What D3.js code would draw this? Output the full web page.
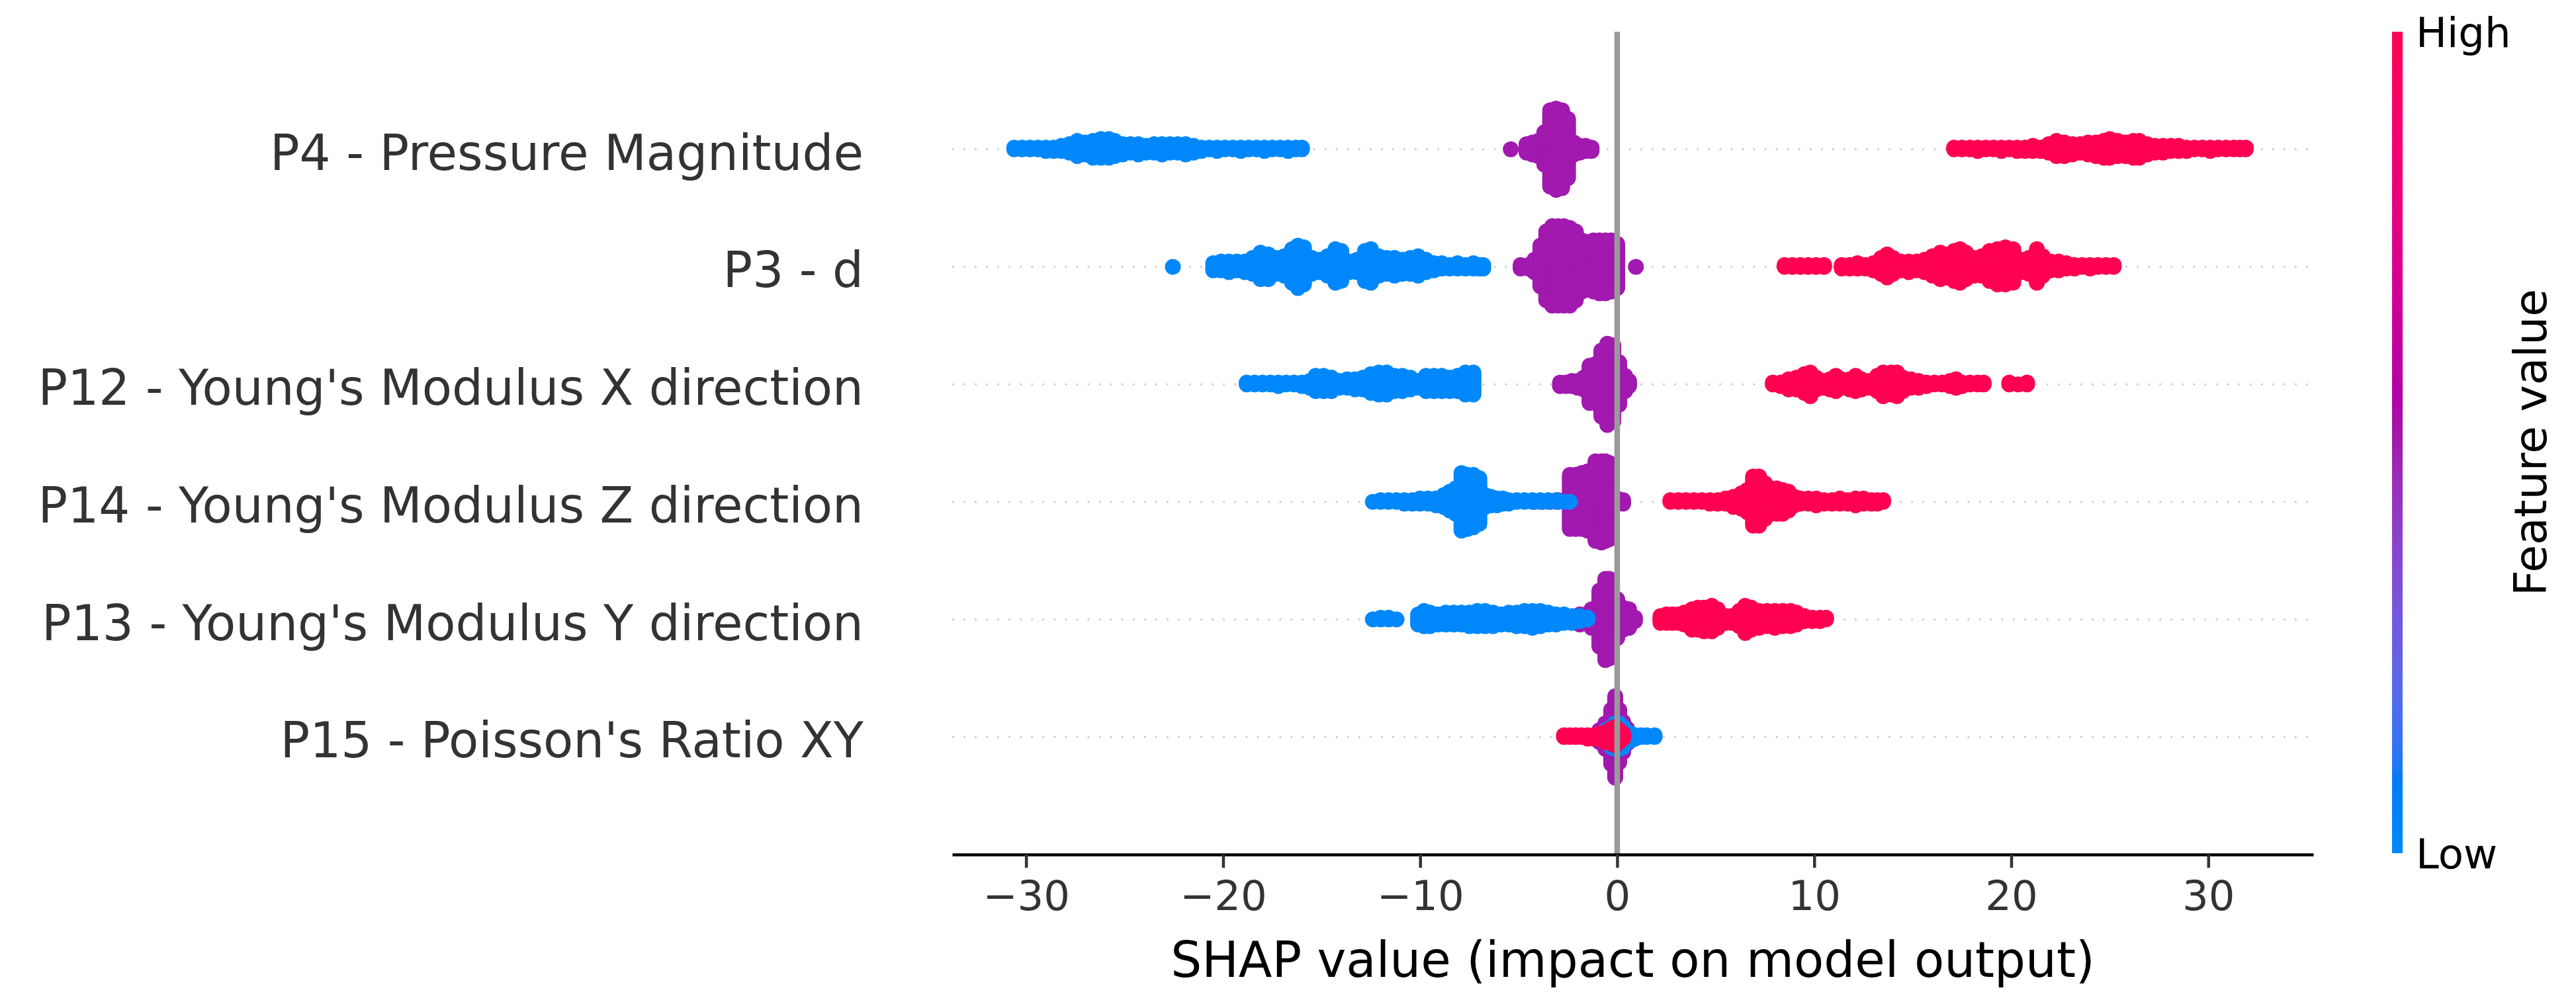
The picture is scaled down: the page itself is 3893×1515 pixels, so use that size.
<!DOCTYPE html>
<html>
<head>
<meta charset="utf-8">
<script src="https://cdn.jsdelivr.net/npm/d3@7"></script>
<style>
    html, body { margin: 0; padding: 0; background: #fff; }
    svg { display: block; }
</style>
</head>
<body>
<div id="chart"></div>
<script>
// features, top row first
const features = [
    "P4 - Pressure Magnitude",
    "P3 - d",
    "P12 - Young's Modulus X direction",
    "P14 - Young's Modulus Z direction",
    "P13 - Young's Modulus Y direction",
    "P15 - Poisson's Ratio XY"
];

const xTicks = [-30, -20, -10, 0, 10, 20, 30];
const levelValues = { low: 0, mid: 0.5, high: 1 };

// [shap value, number of samples stacked at that value]
const p4Low = [[-30.6,2],[-30.2,2],[-29.8,2],[-29.4,2],[-29.0,3],[-28.6,3],[-28.2,4],[-27.8,6],[-27.4,10],[-27.0,8],[-26.6,11],[-26.2,12],[-25.8,12],[-25.5,10],[-25.1,7],[-24.7,6],[-24.3,7],[-23.9,5],[-23.5,6],[-23.1,7],[-22.7,6],[-22.3,6],[-21.9,7],[-21.5,5],[-21.1,3],[-20.7,2],[-20.3,3],[-19.9,2],[-19.5,2],[-19.1,3],[-18.7,2],[-18.3,2],[-17.9,3],[-17.5,2],[-17.1,2],[-16.7,3],[-16.3,2],[-16.0,2]];
const p4Mid = [[-5.4,1],[-4.6,6],[-4.3,8],[-4.0,10],[-3.7,20],[-3.4,46],[-3.1,49],[-2.8,47],[-2.5,36],[-2.2,8],[-1.9,5],[-1.6,4],[-1.3,3]];
const p4High = [[17.1,2],[17.5,2],[17.9,2],[18.3,3],[18.7,2],[19.1,2],[19.5,3],[19.9,2],[20.3,3],[20.7,3],[21.1,4],[21.5,3],[21.9,6],[22.3,10],[22.7,9],[23.1,7],[23.5,6],[23.9,8],[24.3,9],[24.7,11],[25.0,12],[25.4,10],[25.8,9],[26.2,11],[26.5,11],[26.9,7],[27.3,5],[27.7,5],[28.1,4],[28.5,4],[28.9,3],[29.3,2],[29.7,2],[30.1,3],[30.5,2],[30.9,2],[31.3,2],[31.6,2],[31.9,2]];

const p3Low = [[-22.55,1],[-20.5,5],[-20.1,6],[-19.7,7],[-19.3,6],[-18.9,7],[-18.5,10],[-18.1,16],[-17.7,15],[-17.3,10],[-16.9,12],[-16.5,20],[-16.2,25],[-15.9,22],[-15.5,10],[-15.1,8],[-14.7,12],[-14.3,20],[-14.0,18],[-13.6,7],[-13.2,8],[-12.8,18],[-12.5,20],[-12.1,12],[-11.7,10],[-11.3,11],[-10.9,9],[-10.5,10],[-10.1,12],[-9.7,8],[-9.3,5],[-8.9,4],[-8.5,3],[-8.1,4],[-7.7,3],[-7.3,4],[-7.0,3],[-6.8,3]];
const p3Mid = [[-4.9,3],[-4.5,3],[-4.2,8],[-3.9,24],[-3.6,40],[-3.3,46],[-3.0,46],[-2.7,46],[-2.4,45],[-2.1,40],[-1.8,30],[-1.5,28],[-1.2,30],[-0.9,31],[-0.6,31],[-0.3,30],[0.0,26],[0.95,1]];
const p3High = [[8.5,2],[8.9,2],[9.3,2],[9.7,2],[10.1,2],[10.5,2],[11.4,3],[11.8,3],[12.2,4],[12.6,3],[13.0,5],[13.4,10],[13.7,14],[14.0,10],[14.4,6],[14.8,7],[15.2,6],[15.6,8],[16.0,12],[16.4,16],[16.7,14],[17.1,18],[17.4,20],[17.7,16],[18.1,11],[18.5,12],[18.9,18],[19.3,21],[19.7,22],[20.1,20],[20.5,8],[20.9,10],[21.3,20],[21.6,12],[22.0,6],[22.4,6],[22.8,4],[23.2,3],[23.6,2],[24.0,3],[24.4,2],[24.8,2],[25.2,2]];

const p12Low = [[-18.8,2],[-18.4,2],[-18.0,2],[-17.6,2],[-17.2,3],[-16.8,2],[-16.4,2],[-16.0,3],[-15.6,5],[-15.3,10],[-14.9,10],[-14.5,9],[-14.1,5],[-13.7,6],[-13.3,7],[-12.9,8],[-12.5,12],[-12.1,14],[-11.7,14],[-11.3,10],[-10.9,10],[-10.5,8],[-10.1,5],[-9.7,10],[-9.3,10],[-8.9,10],[-8.5,9],[-8.1,10],[-7.7,14],[-7.3,14]];
const p12Mid = [[-2.9,3],[-2.6,3],[-2.3,4],[-2.0,5],[-1.7,8],[-1.4,23],[-1.1,24],[-0.8,40],[-0.5,49],[-0.2,46],[0.1,26],[0.4,10],[0.6,4]];
const p12High = [[7.9,2],[8.3,3],[8.7,7],[9.1,8],[9.5,12],[9.8,15],[10.1,8],[10.5,5],[10.8,7],[11.1,10],[11.4,6],[11.8,7],[12.1,10],[12.4,7],[12.8,5],[13.2,10],[13.5,15],[13.9,14],[14.2,15],[14.5,9],[14.9,6],[15.3,5],[15.7,3],[16.1,2],[16.5,2],[16.9,4],[17.2,6],[17.5,3],[17.9,2],[18.3,2],[18.6,2],[19.9,2],[20.35,1],[20.8,2]];

const p14Low = [[-12.4,1],[-12.0,2],[-11.6,2],[-11.2,2],[-10.8,3],[-10.4,3],[-10.0,4],[-9.6,4],[-9.2,5],[-8.8,8],[-8.5,12],[-8.2,16],[-7.9,35],[-7.6,33],[-7.3,32],[-7.0,28],[-6.7,8],[-6.4,6],[-6.1,5],[-5.8,4],[-5.5,3],[-5.1,2],[-4.7,2],[-4.3,2],[-3.9,2],[-3.5,2],[-3.1,2],[-2.7,1],[-2.4,1]];
const p14Mid = [[-4.2,1],[-3.8,1],[-3.4,1],[-3.0,2],[-2.4,32],[-2.1,33],[-1.8,34],[-1.5,36],[-1.1,48],[-0.8,49],[-0.6,48],[-0.4,46],[0.0,4],[0.3,3]];
const p14High = [[2.7,2],[3.1,2],[3.5,2],[3.9,2],[4.3,2],[4.7,3],[5.1,3],[5.5,4],[5.9,7],[6.3,10],[6.6,14],[6.9,30],[7.2,30],[7.5,22],[7.8,16],[8.1,16],[8.4,15],[8.7,12],[9.0,6],[9.3,4],[9.7,4],[10.1,5],[10.5,3],[10.9,3],[11.3,4],[11.7,3],[12.1,5],[12.5,4],[12.9,3],[13.2,3],[13.5,2]];

const p13Low = [[-12.4,1],[-12.0,2],[-11.6,2],[-11.2,1],[-10.1,7],[-9.8,10],[-9.5,9],[-9.1,7],[-8.7,8],[-8.3,8],[-7.9,8],[-7.5,9],[-7.1,10],[-6.7,10],[-6.3,9],[-5.9,7],[-5.5,8],[-5.1,9],[-4.7,10],[-4.3,11],[-3.9,10],[-3.5,8],[-3.1,7],[-2.7,6],[-2.3,5],[-1.9,4],[-1.5,2]];
const p13Mid = [[-2.8,1],[-2.5,2],[-2.2,2],[-1.9,3],[-1.6,6],[-1.3,12],[-0.9,34],[-0.6,49],[-0.4,48],[0.0,24],[0.3,14],[0.6,12],[0.9,3]];
const p13High = [[2.2,5],[2.5,6],[2.8,6],[3.1,6],[3.4,8],[3.8,13],[4.1,14],[4.4,15],[4.8,16],[5.1,12],[5.5,5],[5.8,5],[6.2,10],[6.5,17],[6.8,14],[7.2,11],[7.6,10],[8.0,11],[8.4,10],[8.8,10],[9.1,8],[9.5,4],[9.9,3],[10.3,3],[10.6,2]];

const p15Low = [[-0.6,1],[-0.3,3],[-0.1,4],[0.1,8],[0.3,9],[0.5,7],[0.7,5],[0.9,3],[1.2,2],[1.5,2],[1.9,2]];
const p15Mid = [[-0.9,4],[-0.6,8],[-0.3,20],[-0.1,33],[0.1,16],[0.3,6],[0.5,3]];
const p15High = [[-2.7,2],[-2.4,2],[-2.1,2],[-1.8,2],[-1.5,3],[-1.2,3],[-0.9,4],[-0.6,7],[-0.3,10],[-0.1,12],[0.1,8],[0.3,4]];

const rows = [
    { low: p4Low, mid: p4Mid, high: p4High },
    { low: p3Low, mid: p3Mid, high: p3High },
    { low: p12Low, mid: p12Mid, high: p12High },
    { low: p14Low, mid: p14Mid, high: p14High },
    { low: p13Low, mid: p13Mid, high: p13High },
    { low: p15Low, mid: p15Mid, high: p15High }
];

// shap's red_blue map: lch ramp from blue to red through a darker purple
function redBlue(t) {
    const i = t * 99;
    const l = i <= 49 ? 54 - 14 * i / 49 : (i < 50 ? 40 : 40 + 14 * (i - 50) / 49);
    const c = 70 + 20 * t;
    const h = 266.93 + (380.32 - 266.93) * t;
    return d3.rgb(d3.hcl(h, c, l)).formatHex();
}

class ShapSummary {
    constructor() {
        this.config();
        this.init();
    }

    config() {
        this.width = 3893;
        this.height = 1515;
        this.plot = { left: 1439, right: 3496, top: 48, bottom: 1292 };
        this.xDomain = [-33.75, 35.33];
        this.dotRadius = 12;
        this.font = "DejaVu Sans";
    }

    init() {
        this.svg = d3.select("#chart").append("svg")
            .attr("width", this.width).attr("height", this.height)
            .style("font-family", this.font);

        this.x = d3.scaleLinear().domain(this.xDomain).range([this.plot.left, this.plot.right]);
        this.y = d3.scaleLinear().domain([-1, features.length]).range([this.plot.bottom, this.plot.top]);

        this.drawGrid();
        this.drawSwarms();
        this.drawZeroLine();
        this.drawAxis();
        this.drawFeatureLabels();
        this.drawColorbar();
    }

    rowPos(i) {
        return features.length - 1 - i;
    }

    drawGrid() {
        this.svg.append("g").selectAll("line")
            .data(features).join("line")
            .attr("x1", this.plot.left).attr("x2", this.plot.right)
            .attr("y1", (_, i) => this.y(this.rowPos(i))).attr("y2", (_, i) => this.y(this.rowPos(i)))
            .attr("stroke", "#cccccc").attr("stroke-width", 2.85)
            .attr("stroke-dasharray", "2.85 14.2");
    }

    // same stacking as shap: alternate up/down within a bin, scale tallest bin to the row height
    layoutRow(row) {
        const stacks = new Map();
        ["high", "low", "mid"].forEach(key => {
            row[key].forEach(([v, n]) => {
                if (!stacks.has(v)) stacks.set(v, []);
                const s = stacks.get(v);
                for (let k = 0; k < n; k++) s.push({ value: v, key, level: levelValues[key] });
            });
        });

        const points = [];
        let maxY = 0;
        stacks.forEach(stack => stack.forEach((p, layer) => {
            p.ys = Math.ceil(layer / 2) * ((layer % 2) * 2 - 1);
            maxY = Math.max(maxY, p.ys);
            points.push(p);
        }));

        const k = 0.9 * 0.4 / (maxY + 1);
        points.forEach(p => p.offset = p.ys * k);

        const drawOrder = { mid: 0, low: 1, high: 2 };
        return points.sort((a, b) => drawOrder[a.key] - drawOrder[b.key]);
    }

    drawSwarms() {
        rows.forEach((row, i) => {
            const pos = this.rowPos(i);
            this.svg.append("g").selectAll("circle")
                .data(this.layoutRow(row)).join("circle")
                .attr("cx", d => this.x(d.value))
                .attr("cy", d => this.y(pos + d.offset))
                .attr("r", this.dotRadius)
                .attr("fill", d => redBlue(d.level));
        });
    }

    drawZeroLine() {
        this.svg.append("line")
            .attr("x1", this.x(0)).attr("x2", this.x(0))
            .attr("y1", this.plot.top).attr("y2", this.plot.bottom)
            .attr("stroke", "#999999").attr("stroke-width", 8.5);
    }

    drawAxis() {
        const axis = d3.axisBottom(this.x)
            .tickValues(xTicks).tickFormat(d3.format("d"))
            .tickSizeInner(20).tickSizeOuter(0).tickPadding(20);

        const g = this.svg.append("g")
            .attr("transform", `translate(0,${this.plot.bottom})`)
            .call(axis)
            .attr("font-family", this.font).attr("font-size", 62.5);

        g.select(".domain").attr("stroke", "#000").attr("stroke-width", 4.5);
        g.selectAll(".tick line").attr("stroke", "#333333").attr("stroke-width", 4.5);
        g.selectAll(".tick text").attr("fill", "#333333");

        this.svg.append("text")
            .attr("x", (this.plot.left + this.plot.right) / 2).attr("y", 1477)
            .attr("text-anchor", "middle").attr("font-size", 74).attr("fill", "#000")
            .text("SHAP value (impact on model output)");
    }

    drawFeatureLabels() {
        this.svg.append("g").selectAll("text")
            .data(features).join("text")
            .attr("x", 1305)
            .attr("y", (_, i) => this.y(this.rowPos(i)) + 31)
            .attr("text-anchor", "end").attr("font-size", 74).attr("fill", "#333333")
            .text(d => d);
    }

    drawColorbar() {
        const bar = { x: 3615, width: 16, top: this.plot.top, bottom: 1290 };

        const grad = this.svg.append("defs").append("linearGradient")
            .attr("id", "featureGradient")
            .attr("x1", 0).attr("y1", 1).attr("x2", 0).attr("y2", 0);
        d3.range(0, 101).forEach(i => {
            grad.append("stop").attr("offset", i / 100).attr("stop-color", redBlue(i / 100));
        });

        this.svg.append("rect")
            .attr("x", bar.x).attr("y", bar.top)
            .attr("width", bar.width).attr("height", bar.bottom - bar.top)
            .attr("fill", "url(#featureGradient)");

        const cbScale = d3.scaleLinear().domain([0, 1]).range([bar.bottom, bar.top]);
        [[1, "High"], [0, "Low"]].forEach(([v, label]) => {
            this.svg.append("text")
                .attr("x", bar.x + bar.width + 20).attr("y", cbScale(v) + 23)
                .attr("font-size", 62.5).attr("fill", "#000")
                .text(label);
        });

        this.svg.append("text")
            .attr("transform", `translate(3848,${(bar.top + bar.bottom) / 2}) rotate(-90)`)
            .attr("text-anchor", "middle").attr("font-size", 68).attr("fill", "#000")
            .text("Feature value");
    }
}

new ShapSummary();
</script>
</body>
</html>
